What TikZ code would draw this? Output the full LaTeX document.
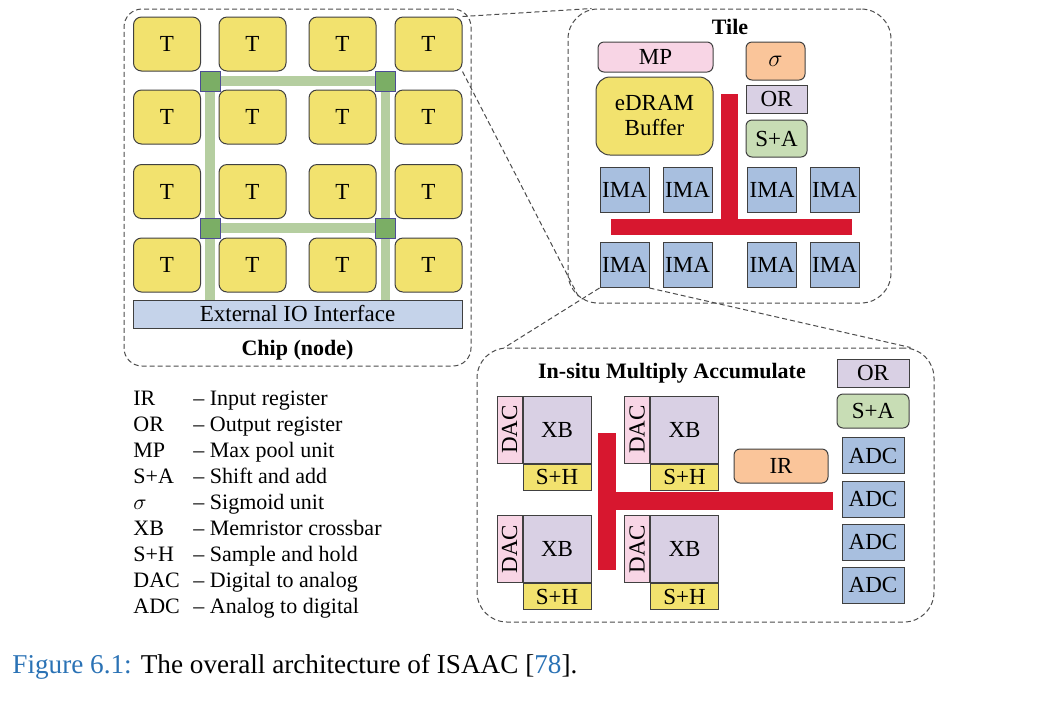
\documentclass[tikz,border=0pt]{standalone}
\usepackage{fontspec}
\setmainfont{Liberation Serif}
\usepackage{xcolor}
\usetikzlibrary{positioning}
\definecolor{tileyellow}{RGB}{242,226,110}
\definecolor{linkgreen}{RGB}{181,206,160}
\definecolor{routergreen}{RGB}{123,174,101}
\definecolor{ioblue}{RGB}{197,211,234}
\definecolor{mppink}{RGB}{248,213,229}
\definecolor{sigorange}{RGB}{250,197,154}
\definecolor{orlav}{RGB}{217,208,228}
\definecolor{sagreen}{RGB}{200,221,181}
\definecolor{imablue}{RGB}{168,191,223}
\definecolor{busred}{RGB}{215,23,47}
\definecolor{capblue}{RGB}{42,114,181}

\begin{document}
\begin{tikzpicture}[
  x=0.5pt, y=-0.5pt,
  unit/.style={draw=black!75, line width=0.5pt, inner sep=0pt, align=center, font=\fontsize{11.5}{12.5}\selectfont},
  tilebox/.style={unit, rounded corners=4pt, fill=tileyellow, minimum width=33.5pt, minimum height=27pt},
  router/.style={draw=black!60!blue!70, line width=0.5pt, fill=routergreen, minimum size=10pt, inner sep=0pt},
  link/.style={linkgreen, line width=4.8pt},
  ima/.style={unit, fill=imablue, minimum width=24.5pt, minimum height=22.5pt},
  xb/.style={unit, fill=orlav, minimum width=34pt, minimum height=33.5pt},
  dac/.style={unit, fill=mppink, minimum width=12.5pt, minimum height=33.5pt},
  sh/.style={unit, fill=tileyellow, minimum width=34pt, minimum height=13pt},
  adc/.style={unit, fill=imablue, minimum width=31pt, minimum height=18pt},
  zoombox/.style={draw=black!70, line width=0.5pt, dash pattern=on 2.5pt off 1.5pt, rounded corners=15pt, inner sep=0pt},
  zoomline/.style={draw=black!70, line width=0.5pt, dash pattern=on 2.5pt off 1.5pt},
  title/.style={font=\bfseries\fontsize{11}{12}\selectfont, inner sep=0pt},
  legend/.style={anchor=base west, inner sep=0pt, font=\fontsize{11}{12}\selectfont},
  bus/.style={fill=busred},
]
\useasboundingbox (0,0) rectangle (1055,709);

% chip
\node[zoombox, rounded corners=9pt, minimum width=173.5pt, minimum height=178.5pt] (chip) at (297.5,187.5) {};
\foreach \cx [count=\i] in {167,252.5,342.5,428.5}
  \foreach \cy [count=\j] in {44,117,191.5,265}
    \node[tilebox] (t\j\i) at (\cx,\cy) {T};
\node[unit, fill=ioblue, minimum width=164.5pt, minimum height=14pt] (io) at (297.5,314) {External IO Interface};
\node[router] (r11) at (210,81) {};
\node[router] (r12) at (385.5,81) {};
\node[router] (r21) at (210,228) {};
\node[router] (r22) at (385.5,228) {};
\draw[link] (r11) -- (r12);
\draw[link] (r21) -- (r22);
\draw[link] (r11) -- (r21);
\draw[link] (r12) -- (r22);
\draw[link] (r21) -- (r21 |- io.north);
\draw[link] (r22) -- (r22 |- io.north);
\node[title] (chiplbl) at (297.5,350) {Chip (node)};

% tile
\node[zoombox, minimum width=161.5pt, minimum height=147pt] (tile) at (729.5,156) {};
\node[title] (tilelbl) at (730,27) {Tile};
\node[unit, rounded corners=3pt, fill=mppink, minimum width=57.5pt, minimum height=15pt] (mp) at (655.5,57) {MP};
\node[unit, rounded corners=7pt, fill=tileyellow, minimum width=58.5pt, minimum height=39pt] (edram) at (654.5,116) {eDRAM\\Buffer};
\node[unit, rounded corners=3pt, fill=sigorange, minimum width=29.5pt, minimum height=19pt] (sig) at (775.5,61) {$\sigma$};
\node[unit, fill=orlav, minimum width=30.5pt, minimum height=14pt] (tor) at (776.5,99) {OR};
\node[unit, rounded corners=3pt, fill=sagreen, minimum width=30.5pt, minimum height=18.5pt] (tsa) at (776.5,138.5) {S+A};
\foreach \cx [count=\i] in {624.5,687.5,772,834.5} {
  \node[ima] (ima1\i) at (\cx,189.5) {IMA};
  \node[ima] (ima2\i) at (\cx,265) {IMA};
}
\fill[bus] (611,219) rectangle (852,235);
\fill[bus] (721,94) rectangle (738,235);
\draw[zoomline] (t14.north east) -- ([xshift=12pt]tile.north west);
\draw[zoomline] (t14.south east) -- ([xshift=6pt,yshift=2.5pt]tile.south west);

% in-situ multiply accumulate
\node[zoombox, minimum width=228.5pt, minimum height=137pt] (isaac) at (705.5,485) {};
\node[title] (isaaclbl) at (672,373) {In-situ Multiply Accumulate};
\node[unit, fill=orlav, minimum width=36pt, minimum height=14pt] (ior) at (873,373) {OR};
\node[unit, rounded corners=3pt, fill=sagreen, minimum width=36pt, minimum height=17pt] (isa) at (873,411) {S+A};
\foreach \cy [count=\k] in {455.5,499,542,585}
  \node[adc] (adc\k) at (873,\cy) {ADC};
\node[unit, rounded corners=3pt, fill=sigorange, minimum width=47pt, minimum height=17pt] (ir) at (781,466) {IR};
\foreach \cx/\cy [count=\k] in {557/429.5, 684.5/429.5, 557/549, 684.5/549} {
  \node[xb] (xb\k) at (\cx,\cy) {XB};
  \node[dac, left=0pt of xb\k] (dac\k) {\rotatebox{90}{DAC}};
  \node[sh, below=0pt of xb\k] (sh\k) {S+H};
}
\fill[bus] (598,433) rectangle (616,570);
\fill[bus] (616,492) rectangle (833,510);
\draw[zoomline] (ima21.south west) -- ([xshift=14pt]isaac.north west);
\draw[zoomline] (ima21.south east) -- ([xshift=-12pt]isaac.north east);

% legend
\foreach \ab/\desc [count=\k] in {IR/Input register, OR/Output register, MP/Max pool unit,
    S+A/Shift and add, $\sigma$/Sigmoid unit, XB/Memristor crossbar,
    S+H/Sample and hold, DAC/Digital to analog, ADC/Analog to digital} {
  \node[legend] (ab\k) at (133,{379+26*\k}) {\ab};
  \node[legend] (desc\k) at (193,{379+26*\k}) {-- \desc};
}

% caption
\node[anchor=base west, inner sep=0pt, font=\fontsize{13.6}{15}\selectfont] (caption) at (12,673)
  {\textcolor{capblue}{Figure 6.1:} The overall architecture of ISAAC [\textcolor{capblue}{78}].};
\end{tikzpicture}
\end{document}
